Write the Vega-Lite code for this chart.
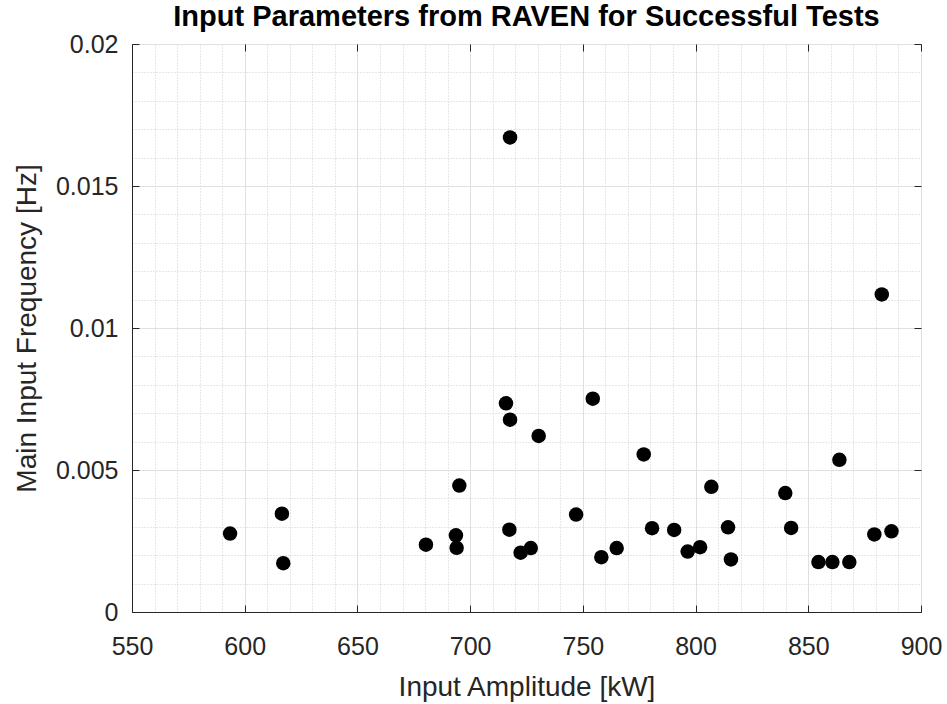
{
  "$schema": "https://vega.github.io/schema/vega-lite/v6.json",
  "width": 789,
  "height": 568,
  "autosize": {"type": "none"},
  "padding": {"left": 132, "top": 44, "right": 26, "bottom": 92},
  "background": "white",
  "title": {
    "text": "Input Parameters from RAVEN for Successful Tests",
    "font": "Liberation Sans",
    "fontSize": 29,
    "fontWeight": "bold",
    "color": "black",
    "anchor": "middle",
    "offset": 0
  },
  "config": {
    "view": {"stroke": "#262626", "strokeWidth": 1},
    "axis": {
      "labelFont": "Liberation Sans",
      "titleFont": "Liberation Sans",
      "labelFontSize": 25,
      "titleFontSize": 28,
      "titleFontWeight": "normal",
      "labelColor": "#262626",
      "titleColor": "#262626",
      "domainColor": "#262626",
      "tickColor": "#262626",
      "labelOverlap": false,
      "labelFlush": false
    }
  },
  "data": {
    "values": [
      {"amp": 593.5, "freq": 0.00276},
      {"amp": 616.5, "freq": 0.00346},
      {"amp": 617.1, "freq": 0.00172},
      {"amp": 680.4, "freq": 0.00237},
      {"amp": 693.7, "freq": 0.0027},
      {"amp": 694.0, "freq": 0.00226},
      {"amp": 695.2, "freq": 0.00445},
      {"amp": 715.9, "freq": 0.00735},
      {"amp": 717.7, "freq": 0.00677},
      {"amp": 717.7, "freq": 0.01671},
      {"amp": 717.4, "freq": 0.0029},
      {"amp": 722.4, "freq": 0.00209},
      {"amp": 726.9, "freq": 0.00225},
      {"amp": 730.4, "freq": 0.0062},
      {"amp": 747.0, "freq": 0.00343},
      {"amp": 754.4, "freq": 0.00751},
      {"amp": 758.2, "freq": 0.00193},
      {"amp": 765.0, "freq": 0.00225},
      {"amp": 777.0, "freq": 0.00555},
      {"amp": 780.7, "freq": 0.00295},
      {"amp": 790.5, "freq": 0.00289},
      {"amp": 796.5, "freq": 0.00213},
      {"amp": 802.0, "freq": 0.00228},
      {"amp": 807.0, "freq": 0.00441},
      {"amp": 814.4, "freq": 0.00298},
      {"amp": 815.7, "freq": 0.00185},
      {"amp": 839.8, "freq": 0.00419},
      {"amp": 842.4, "freq": 0.00296},
      {"amp": 854.5, "freq": 0.00176},
      {"amp": 860.7, "freq": 0.00176},
      {"amp": 863.8, "freq": 0.00536},
      {"amp": 868.2, "freq": 0.00176},
      {"amp": 879.3, "freq": 0.00273},
      {"amp": 882.6, "freq": 0.01118},
      {"amp": 886.9, "freq": 0.00284}
    ]
  },
  "layer": [
    {
      "mark": {"type": "point", "filled": true, "color": "black", "opacity": 1, "size": 210},
      "encoding": {
        "x": {
          "field": "amp",
          "type": "quantitative",
          "scale": {"domain": [550, 900], "nice": false, "zero": false},
          "axis": {
            "title": "Input Amplitude [kW]",
            "values": [550,560,570,580,590,600,610,620,630,640,650,660,670,680,690,700,710,720,730,740,750,760,770,780,790,800,810,820,830,840,850,860,870,880,890,900],
            "labelExpr": "datum.value % 50 === 0 ? format(datum.value, '~g') : ''",
            "grid": true,
            "gridColor": {"condition": {"test": "datum.value % 50 === 0", "value": "#e0e0e0"}, "value": "#cfcfcf"},
            "gridDash": {"condition": {"test": "datum.value % 50 === 0", "value": []}, "value": [1, 2]},
            "tickOpacity": {"condition": {"test": "datum.value % 50 === 0", "value": 1}, "value": 0},
            "tickSize": -7,
            "labelPadding": 29,
            "titlePadding": 14
          }
        },
        "y": {
          "field": "freq",
          "type": "quantitative",
          "scale": {"domain": [0, 0.02], "nice": false, "zero": false},
          "axis": {
            "title": "Main Input Frequency [Hz]",
            "values": [0,0.001,0.002,0.003,0.004,0.005,0.006,0.007,0.008,0.009,0.01,0.011,0.012,0.013,0.014,0.015,0.016,0.017,0.018,0.019,0.02],
            "labelExpr": "round(datum.value * 1000) % 5 === 0 ? format(datum.value, '~g') : ''",
            "grid": true,
            "gridColor": {"condition": {"test": "round(datum.value * 1000) % 5 === 0", "value": "#e0e0e0"}, "value": "#cfcfcf"},
            "gridDash": {"condition": {"test": "round(datum.value * 1000) % 5 === 0", "value": []}, "value": [1, 2]},
            "tickOpacity": {"condition": {"test": "round(datum.value * 1000) % 5 === 0", "value": 1}, "value": 0},
            "tickSize": -7,
            "labelPadding": 21,
            "titlePadding": 14
          }
        }
      }
    },
    {
      "mark": {"type": "point", "filled": true, "opacity": 0},
      "encoding": {
        "x": {
          "field": "amp",
          "type": "quantitative",
          "axis": {
            "orient": "top",
            "title": null,
            "labels": false,
            "grid": false,
            "domain": false,
            "values": [550,600,650,700,750,800,850,900],
            "tickSize": -7
          }
        },
        "y": {
          "field": "freq",
          "type": "quantitative",
          "axis": {
            "orient": "right",
            "title": null,
            "labels": false,
            "grid": false,
            "domain": false,
            "values": [0,0.005,0.01,0.015,0.02],
            "tickSize": -7
          }
        }
      }
    }
  ],
  "resolve": {"axis": {"x": "independent", "y": "independent"}}
}
